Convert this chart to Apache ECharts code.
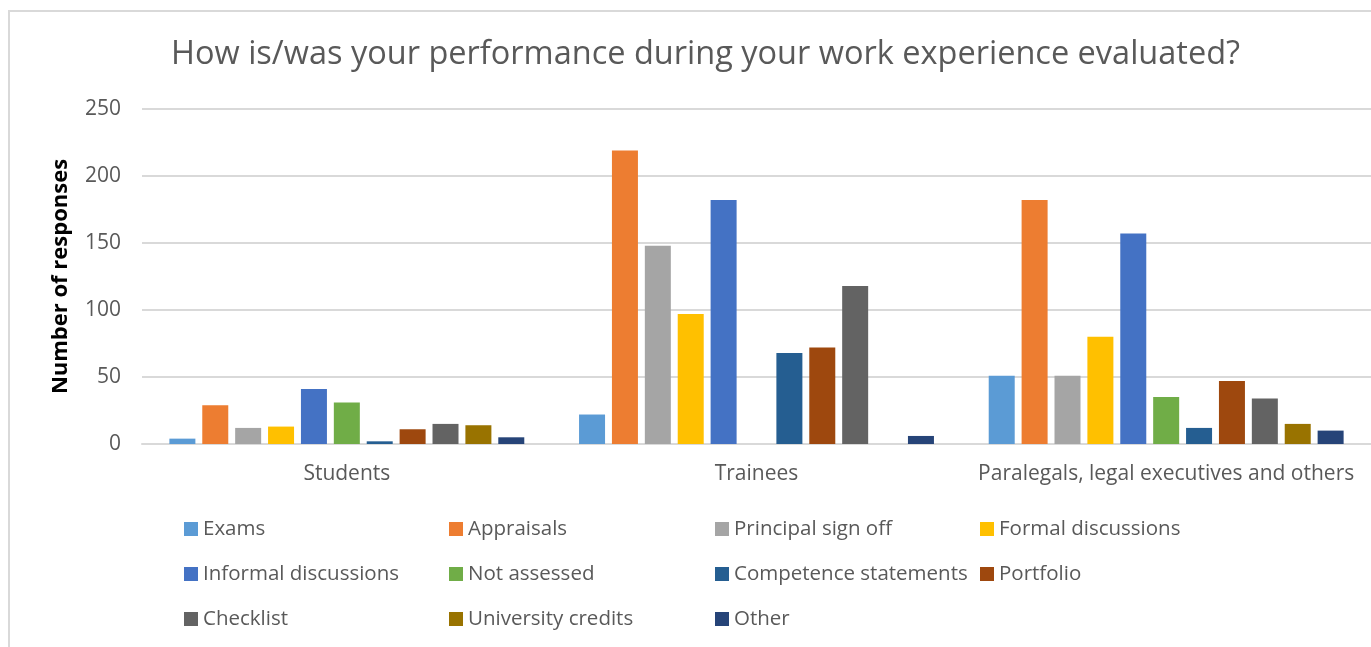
<!DOCTYPE html>
<html>
<head>
<meta charset="utf-8">
<script src="https://cdn.jsdelivr.net/npm/echarts@6/dist/echarts.min.js"></script>
<style>
  html, body { margin: 0; padding: 0; background: #fff; overflow: hidden; }
  .frame { position: absolute; left: 8px; top: 10px; width: 1400px; height: 700px; border: 2px solid #d9d9d9; box-sizing: border-box; }
  #char { position: absolute; left: 0; top: 0; width: 1371px; height: 647px; }
</style>
</head>
<body>
<div class="frame"></div>
<div id="char"></div>
<script>
const categories = ['Students', 'Trainees', 'Paralegals, legal executives and others']
const seriesNames = ['Exams', 'Appraisals', 'Principal sign off', 'Formal discussions',
  'Informal discussions', 'Not assessed', 'Competence statements', 'Portfolio',
  'Checklist', 'University credits', 'Other']
const colors = ['#5b9bd5', '#ed7d31', '#a5a5a5', '#ffc000', '#4472c4', '#70ad47',
  '#255e91', '#9e480e', '#636363', '#997300', '#264478']

// one value per category: students, trainees, paralegals
const exams = [4, 22, 51]
const appraisals = [29, 219, 182]
const principalSignOff = [12, 148, 51]
const formalDiscussions = [13, 97, 80]
const informalDiscussions = [41, 182, 157]
const notAssessed = [31, 0, 35]
const competenceStatements = [2, 68, 12]
const portfolio = [11, 72, 47]
const checklist = [15, 118, 34]
const universityCredits = [14, 0, 15]
const other = [5, 6, 10]

const yTicks = [0, 50, 100, 150, 200, 250]

const allValues = [exams, appraisals, principalSignOff, formalDiscussions, informalDiscussions,
  notAssessed, competenceStatements, portfolio, checklist, universityCredits, other]

const font = '"Open Sans", "DejaVu Sans", sans-serif'
const grey = '#595959'

let myChart = echarts.init(document.getElementById('char'))

// legend is laid out as 4 columns, one vertical legend per column
let legendCol = (names, left) => ({
  orient: 'vertical',
  top: 517,
  left: left,
  padding: 0,
  itemWidth: 14,
  itemHeight: 14,
  itemGap: 21,
  icon: 'rect',
  selectedMode: false,
  data: names,
  textStyle: { color: grey, fontSize: 20.5, fontFamily: font, lineHeight: 24 }
})

let option = {
  color: colors,
  animation: false,
  title: {
    text: 'How is/was your performance during your work experience evaluated?',
    left: 166,
    top: 33,
    textStyle: { color: grey, fontSize: 32.5, fontWeight: 'normal', fontFamily: font }
  },
  legend: [
    legendCol([seriesNames[0], seriesNames[4], seriesNames[8]], 184),
    legendCol([seriesNames[1], seriesNames[5], seriesNames[9]], 449),
    legendCol([seriesNames[2], seriesNames[6], seriesNames[10]], 715),
    legendCol([seriesNames[3], seriesNames[7]], 980)
  ],
  grid: {
    left: 142,
    top: 109,
    width: 1230,
    height: 335
  },
  xAxis: {
    type: 'category',
    data: categories,
    axisTick: { show: false },
    axisLine: { lineStyle: { color: '#d9d9d9', width: 2 } },
    axisLabel: { color: grey, fontSize: 21, fontFamily: font, margin: 20, interval: 0 }
  },
  yAxis: {
    type: 'value',
    min: yTicks[0],
    max: yTicks[yTicks.length - 1],
    interval: 50,
    name: 'Number of responses',
    nameLocation: 'middle',
    nameGap: 70,
    nameTextStyle: { color: '#000', fontSize: 22, fontWeight: 'bold', fontFamily: font },
    axisLabel: { color: grey, fontSize: 21, fontFamily: font, margin: 21 },
    splitLine: { lineStyle: { color: '#d9d9d9', width: 2 } }
  },
  series: []
}

allValues.forEach((vals, i) => {
  option.series.push({
    name: seriesNames[i],
    type: 'bar',
    data: vals,
    barWidth: 26,
    barGap: '26.5%'
  })
})

myChart.setOption(option)
</script>
</body>
</html>
